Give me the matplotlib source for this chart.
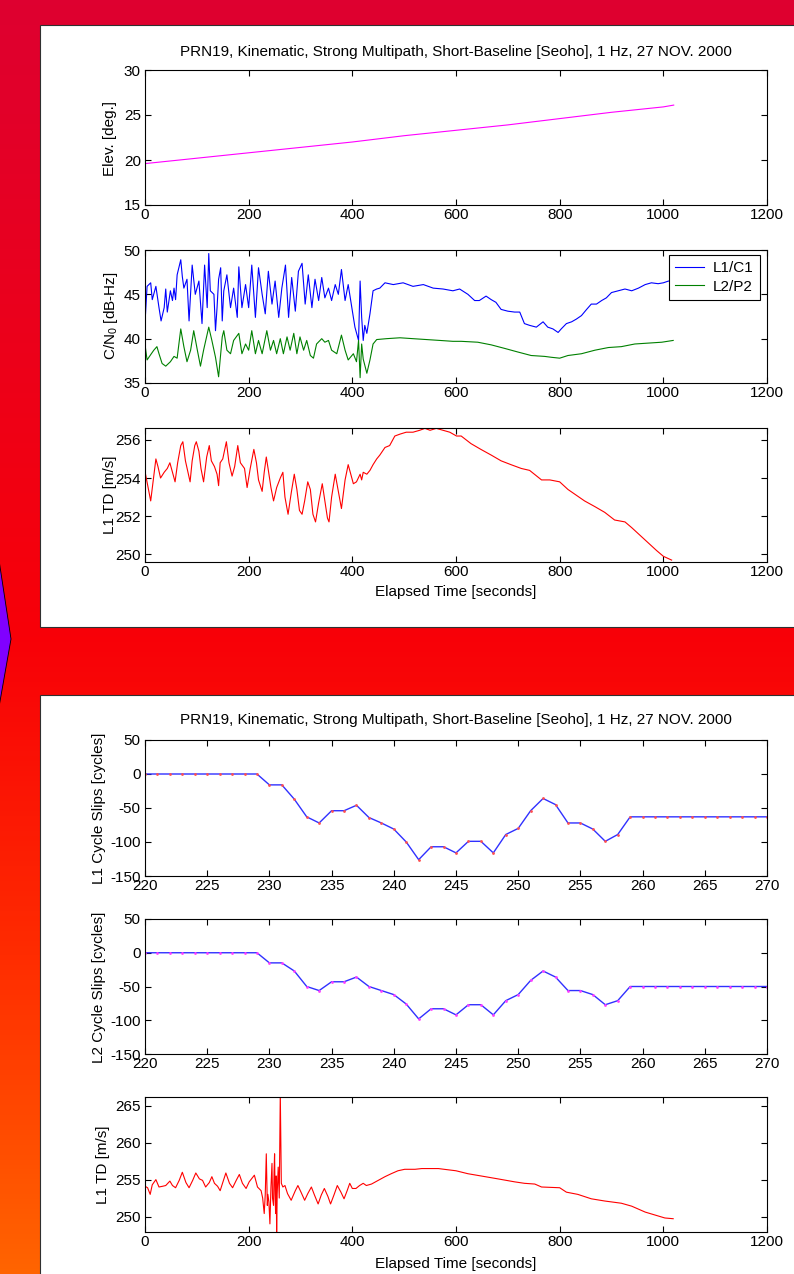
import numpy as np
import matplotlib
matplotlib.use('Agg')
import matplotlib.pyplot as plt
from matplotlib.colors import LinearSegmentedColormap
from matplotlib.patches import Rectangle, Polygon

# ---- data ----
title = 'PRN19, Kinematic, Strong Multipath, Short-Baseline [Seoho], 1 Hz, 27 NOV. 2000'

elev_t = [0, 100, 200, 300, 400, 500, 600, 700, 800, 900, 1000, 1020]
elev_v = [19.6, 20.2, 20.8, 21.4, 22.0, 22.7, 23.3, 23.9, 24.6, 25.3, 25.9, 26.1]

cn0_l1_t = [1, 4, 11, 14, 21, 27, 31, 37, 40, 43, 49, 53, 56, 59, 62, 69, 72, 75, 81, 85,
            91, 97, 104, 110, 115, 120, 123, 126, 133, 136, 139, 142, 146, 149, 152, 158,
            165, 171, 178, 181, 187, 194, 200, 206, 213, 219, 226, 232, 238, 245, 251, 258,
            264, 271, 277, 283, 290, 296, 303, 309, 315, 322, 328, 335, 341, 347, 354, 360,
            367, 373, 379, 386, 392, 399, 405, 412, 415, 418, 421, 424, 428, 434, 440, 447,
            453, 463, 479, 498, 517, 537, 556, 575, 594, 607, 623, 636, 645, 658, 668, 677,
            687, 700, 713, 723, 732, 742, 755, 768, 777, 787, 797, 803, 813, 823, 832, 842,
            852, 861, 871, 881, 890, 900, 913, 926, 939, 952, 965, 977, 990, 1000, 1010, 1020]
cn0_l1_v = [42.8, 45.9, 46.3, 44.4, 45.9, 43.5, 42.0, 43.5, 45.6, 43.0, 45.4, 44.3, 45.7, 44.4,
            47.2, 48.9, 47.0, 45.7, 46.7, 42.0, 48.3, 45.0, 46.5, 41.7, 48.3, 43.5, 49.6, 45.4,
            45.0, 40.9, 43.5, 46.7, 48.0, 42.0, 45.4, 47.2, 43.5, 45.7, 42.4, 48.1, 43.5, 46.1,
            43.5, 48.3, 42.4, 48.0, 45.0, 42.8, 47.6, 43.9, 46.5, 42.4, 45.7, 48.3, 42.4, 46.9,
            43.1, 47.6, 48.5, 43.9, 47.2, 43.5, 46.7, 44.3, 46.9, 44.6, 45.7, 44.3, 46.1, 45.0,
            47.8, 44.3, 46.1, 43.5, 41.3, 39.8, 46.5, 42.4, 39.8, 41.5, 40.6, 42.8, 45.4, 45.6,
            45.7, 46.3, 46.1, 46.3, 45.9, 46.1, 45.7, 45.6, 45.4, 45.6, 45.0, 44.3, 44.3, 44.8,
            44.4, 44.1, 43.3, 43.1, 43.0, 43.0, 41.7, 41.5, 41.3, 41.9, 41.3, 41.1, 40.7, 41.1,
            41.7, 41.9, 42.2, 42.6, 43.3, 43.9, 43.9, 44.3, 44.6, 45.2, 45.4, 45.6, 45.4, 45.7,
            46.1, 46.3, 46.2, 46.3, 46.5, 46.4]

cn0_l2_t = [1, 4, 11, 17, 23, 27, 33, 40, 49, 56, 62, 69, 75, 81, 88, 94, 101, 107, 113, 123,
            129, 136, 142, 149, 152, 158, 165, 171, 181, 187, 194, 200, 206, 213, 219, 226,
            235, 242, 248, 254, 261, 267, 274, 280, 287, 293, 299, 306, 312, 319, 325, 331,
            341, 347, 354, 360, 370, 379, 386, 392, 402, 408, 412, 415, 418, 421, 428, 434,
            440, 447, 466, 492, 517, 543, 569, 594, 610, 642, 668, 694, 719, 745, 771, 784,
            800, 816, 842, 868, 894, 919, 945, 971, 997, 1019]
cn0_l2_v = [38.9, 37.6, 38.2, 38.7, 39.1, 38.3, 37.2, 36.9, 37.4, 38.0, 37.8, 41.1, 39.1, 37.4,
            38.7, 40.9, 38.7, 36.9, 38.7, 41.3, 39.8, 37.9, 35.7, 40.2, 40.9, 38.7, 38.3, 39.8,
            40.6, 38.3, 39.4, 38.7, 40.9, 38.3, 39.8, 38.3, 40.9, 38.7, 39.8, 38.3, 40.0, 38.3,
            40.2, 38.7, 40.6, 38.3, 40.2, 38.7, 39.8, 38.1, 37.8, 39.4, 40.0, 39.6, 39.8, 38.7,
            38.3, 40.4, 38.7, 37.6, 38.3, 37.4, 39.8, 35.6, 39.4, 37.7, 36.1, 37.6, 39.4, 39.9,
            40.0, 40.1, 40.0, 39.9, 39.8, 39.7, 39.7, 39.6, 39.3, 38.9, 38.5, 38.1, 38.0, 37.9,
            37.8, 38.1, 38.3, 38.7, 39.0, 39.1, 39.4, 39.5, 39.6, 39.8]

td_top_t = [1, 6, 11, 16, 21, 25, 30, 37, 43, 48, 53, 58, 63, 69, 73, 78, 87, 91, 96, 99,
            104, 108, 113, 119, 124, 128, 134, 139, 142, 145, 150, 157, 162, 168, 173, 179,
            184, 192, 197, 203, 210, 215, 219, 226, 230, 234, 238, 243, 248, 254, 261, 266,
            270, 276, 282, 288, 293, 298, 303, 308, 314, 319, 324, 329, 335, 342, 347, 352,
            355, 360, 367, 373, 379, 386, 392, 397, 402, 408, 415, 418, 421, 428, 434, 440,
            447, 453, 463, 472, 482, 492, 504, 517, 530, 540, 550, 562, 575, 588, 601, 610,
            629, 648, 668, 687, 706, 726, 742, 765, 781, 800, 816, 832, 848, 868, 887, 906,
            926, 939, 955, 971, 987, 1000, 1016]
td_top_v = [254.2, 253.5, 252.8, 253.9, 255.0, 254.6, 254.0, 254.3, 254.5, 254.8, 254.3, 253.8,
            254.8, 255.7, 255.9, 254.9, 253.8, 254.9, 255.7, 255.9, 255.4, 254.5, 253.8, 255.1,
            255.7, 254.9, 254.6, 254.2, 253.6, 254.8, 255.0, 255.9, 254.8, 254.1, 254.6, 255.7,
            254.8, 254.5, 253.5, 254.5, 255.5, 254.8, 253.9, 253.3, 254.3, 255.1, 254.4, 253.5,
            252.8, 253.5, 254.0, 254.3, 253.0, 252.1, 253.2, 254.2, 253.4, 252.3, 252.1, 252.8,
            253.8, 253.4, 252.1, 251.7, 252.7, 253.7, 252.8, 251.9, 251.7, 253.0, 254.2, 253.3,
            252.4, 253.9, 254.7, 254.2, 253.7, 253.8, 254.2, 253.9, 254.3, 254.2, 254.4, 254.7,
            255.0, 255.2, 255.6, 255.7, 256.2, 256.3, 256.4, 256.4, 256.5, 256.6, 256.5, 256.6,
            256.5, 256.4, 256.2, 256.2, 255.8, 255.5, 255.2, 254.9, 254.7, 254.5, 254.4, 253.9,
            253.9, 253.8, 253.4, 253.1, 252.8, 252.5, 252.2, 251.8, 251.7, 251.4, 251.0, 250.6,
            250.2, 249.9, 249.7]

slip_t = list(range(220, 271))
slip_l1 = [0, 0, 0, 0, 0, 0, 0, 0, 0, 0,
           -16, -16, -37, -63, -72, -54, -54, -46, -64, -72,
           -81, -100, -126, -107, -107, -116, -99, -99, -116, -89,
           -80, -54, -36, -45, -72, -72, -81, -99, -89, -63,
           -63, -63, -63, -63, -63, -63, -63, -63, -63, -63, -63]
slip_l2 = [0, 0, 0, 0, 0, 0, 0, 0, 0, 0,
           -15, -15, -27, -50, -56, -43, -43, -36, -50, -56,
           -62, -76, -98, -83, -83, -92, -77, -77, -92, -71,
           -62, -41, -27, -36, -56, -56, -62, -77, -71, -50,
           -50, -50, -50, -50, -50, -50, -50, -50, -50, -50, -50]

td_bot_t = [0, 5, 10, 14, 21, 27, 34, 40, 48, 53, 59, 66, 72, 79, 85, 92, 98, 105, 111, 117,
            124, 129, 134, 140, 145, 150, 156, 163, 169, 176, 182, 188, 195, 201, 211, 217,
            224, 227, 230, 232, 234, 236, 237, 239, 241, 243, 245, 246, 248, 249, 250, 251,
            252, 253, 254, 255, 257, 259, 261, 263, 266, 270, 275, 282, 290, 295, 301, 308,
            314, 321, 327, 334, 340, 346, 353, 358, 365, 371, 378, 384, 390, 395, 400, 407,
            414, 421, 427, 437, 450, 463, 475, 488, 501, 521, 534, 546, 566, 577, 600, 623,
            648, 681, 713, 732, 752, 765, 800, 813, 835, 861, 887, 919, 939, 965, 984, 1003,
            1019]
td_bot_v = [254.1, 253.9, 253.0, 254.3, 255.0, 254.0, 254.1, 254.2, 254.8, 254.2, 253.9, 254.9,
            256.0, 254.6, 253.9, 254.9, 255.9, 255.1, 254.9, 254.0, 254.6, 255.4, 254.5, 254.1,
            253.5, 254.6, 255.9, 254.5, 253.9, 254.9, 255.7, 254.5, 253.8, 254.7, 255.6, 254.0,
            253.5, 252.5, 250.4, 253.0, 258.5, 251.5, 253.0, 252.0, 249.0, 254.0, 257.2, 252.5,
            251.5, 256.0, 258.5, 253.0, 250.4, 255.5, 247.7, 253.0, 256.7, 252.5, 266.7, 254.5,
            254.0, 254.2, 253.1, 252.2, 253.5, 254.2, 253.3, 252.2, 253.1, 254.0, 252.9, 251.7,
            252.9, 253.8, 252.7, 251.7, 253.0, 254.2, 253.3, 252.4, 253.5, 254.5, 253.8, 253.8,
            254.2, 254.5, 254.2, 254.4, 254.9, 255.4, 255.8, 256.2, 256.4, 256.4, 256.5, 256.5,
            256.5, 256.4, 256.2, 255.8, 255.5, 255.1, 254.7, 254.5, 254.4, 254.0, 253.9, 253.3,
            253.0, 252.4, 252.1, 251.8, 251.4, 250.6, 250.2, 249.8, 249.7]

# ---- style ----
plt.rcParams['font.family'] = ['Liberation Sans', 'DejaVu Sans']
plt.rcParams['mathtext.fontset'] = 'custom'
plt.rcParams['mathtext.rm'] = 'Liberation Sans'
plt.rcParams['mathtext.it'] = 'Liberation Sans'
plt.rcParams['font.size'] = 11
plt.rcParams['axes.unicode_minus'] = False
plt.rcParams['xtick.direction'] = 'in'
plt.rcParams['ytick.direction'] = 'in'
plt.rcParams['xtick.top'] = True
plt.rcParams['ytick.right'] = True
plt.rcParams['xtick.major.size'] = 4.5
plt.rcParams['ytick.major.size'] = 4.5
plt.rcParams['xtick.major.pad'] = 2.5
plt.rcParams['ytick.major.pad'] = 3
plt.rcParams['axes.linewidth'] = 0.8

W, H = 794, 1274
fig = plt.figure(figsize=(W / 100, H / 100), dpi=100)


def px(x, y):
    return x / W, 1 - y / H


def box(top, bottom, left=145, right=767):
    return [left / W, 1 - bottom / H, (right - left) / W, (bottom - top) / H]


# background gradient, panels and the purple arrow
bg = fig.add_axes([0, 0, 1, 1], zorder=-10)
cmap = LinearSegmentedColormap.from_list(
    'bg', [(0, '#de0030'), (0.5, '#f80008'), (0.75, '#ff2c00'), (1, '#ff6400')])
bg.imshow(np.linspace(0, 1, 256).reshape(-1, 1), aspect='auto', cmap=cmap,
          extent=[0, 1, 0, 1], origin='upper')
bg.set_xlim(0, 1)
bg.set_ylim(0, 1)
bg.axis('off')
for top, bottom in [(25, 627), (695, 1290)]:
    x0, y0 = px(40, bottom)
    bg.add_patch(Rectangle((x0, y0), 1, (bottom - top) / H, fc='white', ec='#303030', lw=0.8))
bg.add_patch(Polygon([px(-1, 560), px(11, 639), px(-1, 707)], closed=True,
                     fc='#8000ff', ec='black', lw=0.6))

xticks = [0, 200, 400, 600, 800, 1000, 1200]

ax1 = fig.add_axes(box(70, 205))
ax1.plot(elev_t, elev_v, color='#ff00ff', lw=0.8)
ax1.set_xlim(0, 1200)
ax1.set_ylim(15, 30)
ax1.set_xticks(xticks)
ax1.set_yticks([15, 20, 25, 30])

ax2 = fig.add_axes(box(250, 383))
ax2.plot(cn0_l1_t, cn0_l1_v, color='#0000ff', lw=0.8, label='L1/C1')
ax2.plot(cn0_l2_t, cn0_l2_v, color='#008000', lw=0.8, label='L2/P2')
ax2.set_xlim(0, 1200)
ax2.set_ylim(35, 50)
ax2.set_xticks(xticks)
ax2.set_yticks([35, 40, 45, 50])
leg = ax2.legend(loc='upper right', bbox_to_anchor=(760 / W, 1 - 255 / H),
                 bbox_transform=fig.transFigure, fancybox=False, framealpha=1,
                 edgecolor='black', borderpad=0.4, handlelength=1.9, handletextpad=0.6,
                 labelspacing=0.3, borderaxespad=0)
leg.get_frame().set_linewidth(0.8)

ax3 = fig.add_axes(box(428, 562))
ax3.plot(td_top_t, td_top_v, color='#ff0000', lw=0.8)
ax3.set_xlim(0, 1200)
ax3.set_ylim(249.6, 256.62)
ax3.set_xticks(xticks)
ax3.set_yticks([250, 252, 254, 256])

ax4 = fig.add_axes(box(740, 876))
ax4.plot(slip_t, slip_l1, color='#3030ff', lw=1.0)
ax4.plot(slip_t, slip_l1, '.', color='#ff5050', ms=2)
ax4.set_xlim(220, 270)
ax4.set_ylim(-150, 50)
ax4.set_xticks(range(220, 271, 5))
ax4.set_yticks([-150, -100, -50, 0, 50])

ax5 = fig.add_axes(box(919, 1054))
ax5.plot(slip_t, slip_l2, color='#3030ff', lw=1.0)
ax5.plot(slip_t, slip_l2, '.', color='#ff40ff', ms=2)
ax5.set_xlim(220, 270)
ax5.set_ylim(-150, 50)
ax5.set_xticks(range(220, 271, 5))
ax5.set_yticks([-150, -100, -50, 0, 50])

ax6 = fig.add_axes(box(1097, 1232))
ax6.plot(td_bot_t, td_bot_v, color='#ff0000', lw=0.8)
ax6.set_xlim(0, 1200)
ax6.set_ylim(247.9, 266.2)
ax6.set_xticks(xticks)
ax6.set_yticks([250, 255, 260, 265])

# titles and labels
fig.text(*px(456, 52), title, ha='center', va='center')
fig.text(*px(456, 720), title, ha='center', va='center')
fig.text(*px(456, 592), 'Elapsed Time [seconds]', ha='center', va='center')
fig.text(*px(456, 1264), 'Elapsed Time [seconds]', ha='center', va='center')
fig.text(*px(110, 138), 'Elev. [deg.]', rotation=90, ha='center', va='center')
fig.text(*px(111, 316), r'C/N$_0$ [dB-Hz]', rotation=90, ha='center', va='center')
fig.text(*px(110, 495), 'L1 TD [m/s]', rotation=90, ha='center', va='center')
fig.text(*px(99, 808), 'L1 Cycle Slips [cycles]', rotation=90, ha='center', va='center')
fig.text(*px(99, 987), 'L2 Cycle Slips [cycles]', rotation=90, ha='center', va='center')
fig.text(*px(103, 1165), 'L1 TD [m/s]', rotation=90, ha='center', va='center')

fig.savefig('out.png', dpi=100)
